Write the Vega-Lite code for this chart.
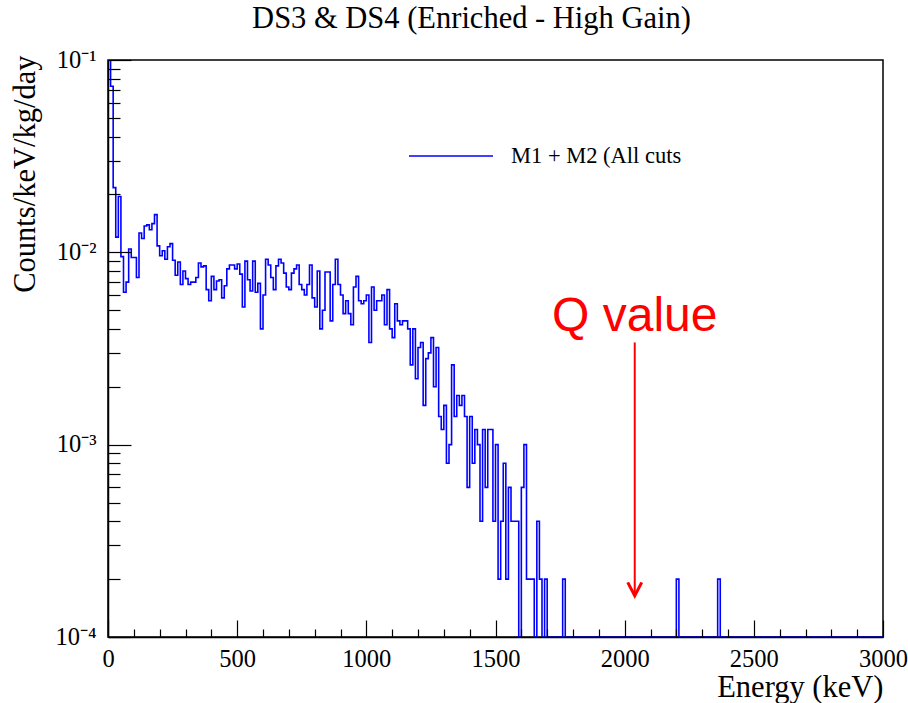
{
  "$schema": "https://vega.github.io/schema/vega-lite/v6.json",
  "width": 775,
  "height": 577,
  "autosize": {"type": "none"},
  "padding": {"left": 108, "top": 60, "right": 25, "bottom": 66},
  "background": "white",
  "config": {
    "view": {"stroke": "black", "strokeWidth": 1.5},
    "font": "Liberation Serif"
  },
  "title": {
    "text": "DS3 & DS4 (Enriched - High Gain)",
    "font": "Liberation Serif",
    "fontSize": 30.5,
    "fontWeight": "normal",
    "color": "black",
    "anchor": "middle",
    "frame": "group",
    "baseline": "alphabetic",
    "offset": 29,
    "dx": -24,
    "dy": 40
  },
  "datasets": {
    "spectrum": [
      {"keV":0,"rate":0.105},{"keV":10,"rate":0.073},{"keV":20,"rate":0.0217},{"keV":30,"rate":0.012},{"keV":40,"rate":0.0195},
      {"keV":50,"rate":0.0095},{"keV":60,"rate":0.0062},{"keV":70,"rate":0.007},{"keV":80,"rate":0.0104},{"keV":90,"rate":0.0094},
      {"keV":100,"rate":0.0094},{"keV":110,"rate":0.0074},{"keV":120,"rate":0.0126},{"keV":130,"rate":0.0118},{"keV":140,"rate":0.0137},
      {"keV":150,"rate":0.0139},{"keV":160,"rate":0.0131},{"keV":170,"rate":0.0141},{"keV":180,"rate":0.0157},{"keV":190,"rate":0.0108},
      {"keV":200,"rate":0.0096},{"keV":210,"rate":0.0102},{"keV":220,"rate":0.0092},{"keV":230,"rate":0.0107},{"keV":240,"rate":0.0111},
      {"keV":250,"rate":0.0091},{"keV":260,"rate":0.0076},{"keV":270,"rate":0.0089},{"keV":280,"rate":0.0068},{"keV":290,"rate":0.008},
      {"keV":300,"rate":0.0073},{"keV":310,"rate":0.0068},{"keV":320,"rate":0.007},{"keV":330,"rate":0.007},{"keV":340,"rate":0.0074},
      {"keV":350,"rate":0.0088},{"keV":360,"rate":0.0084},{"keV":370,"rate":0.0085},{"keV":380,"rate":0.0064},{"keV":390,"rate":0.0056},
      {"keV":400,"rate":0.0075},{"keV":410,"rate":0.0064},{"keV":420,"rate":0.0071},{"keV":430,"rate":0.0072},{"keV":440,"rate":0.0058},
      {"keV":450,"rate":0.0067},{"keV":460,"rate":0.0082},{"keV":470,"rate":0.0086},{"keV":480,"rate":0.0086},{"keV":490,"rate":0.0082},
      {"keV":500,"rate":0.0087},{"keV":510,"rate":0.0077},{"keV":520,"rate":0.0052},{"keV":530,"rate":0.009},{"keV":540,"rate":0.0072},
      {"keV":550,"rate":0.0063},{"keV":560,"rate":0.009},{"keV":570,"rate":0.0062},{"keV":580,"rate":0.0069},{"keV":590,"rate":0.004},
      {"keV":600,"rate":0.006},{"keV":610,"rate":0.0092},{"keV":620,"rate":0.0086},{"keV":630,"rate":0.0074},{"keV":640,"rate":0.0064},
      {"keV":650,"rate":0.0085},{"keV":660,"rate":0.0092},{"keV":670,"rate":0.0088},{"keV":680,"rate":0.0078},{"keV":690,"rate":0.0066},
      {"keV":700,"rate":0.0064},{"keV":710,"rate":0.0078},{"keV":720,"rate":0.0082},{"keV":730,"rate":0.0086},{"keV":740,"rate":0.0068},
      {"keV":750,"rate":0.0064},{"keV":760,"rate":0.006},{"keV":770,"rate":0.0068},{"keV":780,"rate":0.0086},{"keV":790,"rate":0.0058},
      {"keV":800,"rate":0.0052},{"keV":810,"rate":0.008},{"keV":820,"rate":0.004},{"keV":830,"rate":0.005},{"keV":840,"rate":0.0079},
      {"keV":850,"rate":0.0079},{"keV":860,"rate":0.0044},{"keV":870,"rate":0.0068},{"keV":880,"rate":0.0092},{"keV":890,"rate":0.0068},
      {"keV":900,"rate":0.006},{"keV":910,"rate":0.0048},{"keV":920,"rate":0.0056},{"keV":930,"rate":0.0048},{"keV":940,"rate":0.0042},
      {"keV":950,"rate":0.0066},{"keV":960,"rate":0.0075},{"keV":970,"rate":0.0056},{"keV":980,"rate":0.0054},{"keV":990,"rate":0.0056},
      {"keV":1000,"rate":0.006},{"keV":1010,"rate":0.0034},{"keV":1020,"rate":0.0066},{"keV":1030,"rate":0.005},{"keV":1040,"rate":0.0056},
      {"keV":1050,"rate":0.0056},{"keV":1060,"rate":0.006},{"keV":1070,"rate":0.0042},{"keV":1080,"rate":0.0064},{"keV":1090,"rate":0.004},
      {"keV":1100,"rate":0.0036},{"keV":1110,"rate":0.0054},{"keV":1120,"rate":0.0044},{"keV":1130,"rate":0.0042},{"keV":1140,"rate":0.0044},
      {"keV":1150,"rate":0.0044},{"keV":1160,"rate":0.004},{"keV":1170,"rate":0.0026},{"keV":1180,"rate":0.004},{"keV":1190,"rate":0.0022},
      {"keV":1200,"rate":0.0032},{"keV":1210,"rate":0.0034},{"keV":1220,"rate":0.0016},{"keV":1230,"rate":0.0028},{"keV":1240,"rate":0.003},
      {"keV":1250,"rate":0.0036},{"keV":1260,"rate":0.002},{"keV":1270,"rate":0.0032},{"keV":1280,"rate":0.0014},{"keV":1290,"rate":0.0012},
      {"keV":1300,"rate":0.0016},{"keV":1310,"rate":0.0008},{"keV":1320,"rate":0.001},{"keV":1330,"rate":0.0026},{"keV":1340,"rate":0.0014},
      {"keV":1350,"rate":0.0018},{"keV":1360,"rate":0.0016},{"keV":1370,"rate":0.0018},{"keV":1380,"rate":0.0014},{"keV":1390,"rate":0.0006},
      {"keV":1400,"rate":0.0014},{"keV":1410,"rate":0.0008},{"keV":1420,"rate":0.0012},{"keV":1430,"rate":0.001},{"keV":1440,"rate":0.0004},
      {"keV":1450,"rate":0.0012},{"keV":1460,"rate":0.0006},{"keV":1470,"rate":0.0012},{"keV":1480,"rate":0.0012},{"keV":1490,"rate":0.0004},
      {"keV":1500,"rate":0.001},{"keV":1510,"rate":0.0002},{"keV":1520,"rate":0.0004},{"keV":1530,"rate":0.0008},{"keV":1540,"rate":0.0002},
      {"keV":1550,"rate":0.0006},{"keV":1560,"rate":0.0004},{"keV":1570,"rate":0.0004},{"keV":1580,"rate":0.0004},{"keV":1590,"rate":0},
      {"keV":1600,"rate":0.0006},{"keV":1610,"rate":0.001},{"keV":1620,"rate":0.0002},{"keV":1630,"rate":0.0002},{"keV":1640,"rate":0.0002},
      {"keV":1650,"rate":0},{"keV":1660,"rate":0.0004},{"keV":1670,"rate":0.0002},{"keV":1680,"rate":0},{"keV":1690,"rate":0.0002},
      {"keV":1700,"rate":0},{"keV":1710,"rate":0},{"keV":1720,"rate":0},{"keV":1730,"rate":0},{"keV":1740,"rate":0},
      {"keV":1750,"rate":0},{"keV":1760,"rate":0.0002},{"keV":1770,"rate":0},{"keV":1780,"rate":0},{"keV":1790,"rate":0},
      {"keV":1800,"rate":0},{"keV":1810,"rate":0},{"keV":1820,"rate":0},{"keV":1830,"rate":0},{"keV":1840,"rate":0},
      {"keV":1850,"rate":0},{"keV":1860,"rate":0},{"keV":1870,"rate":0},{"keV":1880,"rate":0},{"keV":1890,"rate":0},
      {"keV":1900,"rate":0},{"keV":1910,"rate":0},{"keV":1920,"rate":0},{"keV":1930,"rate":0},{"keV":1940,"rate":0},
      {"keV":1950,"rate":0},{"keV":1960,"rate":0},{"keV":1970,"rate":0},{"keV":1980,"rate":0},{"keV":1990,"rate":0},
      {"keV":2000,"rate":0},{"keV":2010,"rate":0},{"keV":2020,"rate":0},{"keV":2030,"rate":0},{"keV":2040,"rate":0},
      {"keV":2050,"rate":0},{"keV":2060,"rate":0},{"keV":2070,"rate":0},{"keV":2080,"rate":0},{"keV":2090,"rate":0},
      {"keV":2100,"rate":0},{"keV":2110,"rate":0},{"keV":2120,"rate":0},{"keV":2130,"rate":0},{"keV":2140,"rate":0},
      {"keV":2150,"rate":0},{"keV":2160,"rate":0},{"keV":2170,"rate":0},{"keV":2180,"rate":0},{"keV":2190,"rate":0},
      {"keV":2200,"rate":0.0002},{"keV":2210,"rate":0},{"keV":2220,"rate":0},{"keV":2230,"rate":0},{"keV":2240,"rate":0},
      {"keV":2250,"rate":0},{"keV":2260,"rate":0},{"keV":2270,"rate":0},{"keV":2280,"rate":0},{"keV":2290,"rate":0},
      {"keV":2300,"rate":0},{"keV":2310,"rate":0},{"keV":2320,"rate":0},{"keV":2330,"rate":0},{"keV":2340,"rate":0},
      {"keV":2350,"rate":0},{"keV":2360,"rate":0.0002},{"keV":2370,"rate":0},{"keV":2380,"rate":0},{"keV":2390,"rate":0},
      {"keV":2400,"rate":0},{"keV":2410,"rate":0},{"keV":2420,"rate":0},{"keV":2430,"rate":0},{"keV":2440,"rate":0},
      {"keV":2450,"rate":0},{"keV":2460,"rate":0},{"keV":2470,"rate":0},{"keV":2480,"rate":0},{"keV":2490,"rate":0},
      {"keV":2500,"rate":0},{"keV":2510,"rate":0},{"keV":2520,"rate":0},{"keV":2530,"rate":0},{"keV":2540,"rate":0},
      {"keV":2550,"rate":0},{"keV":2560,"rate":0},{"keV":2570,"rate":0},{"keV":2580,"rate":0},{"keV":2590,"rate":0},
      {"keV":2600,"rate":0},{"keV":2610,"rate":0},{"keV":2620,"rate":0},{"keV":2630,"rate":0},{"keV":2640,"rate":0},
      {"keV":2650,"rate":0},{"keV":2660,"rate":0},{"keV":2670,"rate":0},{"keV":2680,"rate":0},{"keV":2690,"rate":0},
      {"keV":2700,"rate":0},{"keV":2710,"rate":0},{"keV":2720,"rate":0},{"keV":2730,"rate":0},{"keV":2740,"rate":0},
      {"keV":2750,"rate":0},{"keV":2760,"rate":0},{"keV":2770,"rate":0},{"keV":2780,"rate":0},{"keV":2790,"rate":0},
      {"keV":2800,"rate":0},{"keV":2810,"rate":0},{"keV":2820,"rate":0},{"keV":2830,"rate":0},{"keV":2840,"rate":0},
      {"keV":2850,"rate":0},{"keV":2860,"rate":0},{"keV":2870,"rate":0},{"keV":2880,"rate":0},{"keV":2890,"rate":0},
      {"keV":2900,"rate":0},{"keV":2910,"rate":0},{"keV":2920,"rate":0},{"keV":2930,"rate":0},{"keV":2940,"rate":0},
      {"keV":2950,"rate":0},{"keV":2960,"rate":0},{"keV":2970,"rate":0},{"keV":2980,"rate":0},{"keV":2990,"rate":0},
      {"keV":3000,"rate":0}
    ],
    "qvalue": [
      {"keV": 2039, "top": 0.0034, "tip": 0.000164, "textRate": 0.0039, "label": "Q value"}
    ]
  },
  "layer": [
    {
      "description": "Minor tick marks on both axes (invisible carrier mark)",
      "data": {"name": "qvalue"},
      "mark": {"type": "point", "opacity": 0},
      "encoding": {
        "x": {
          "field": "keV", "type": "quantitative",
          "scale": {"domain": [0, 3000], "nice": false, "zero": false},
          "axis": {
            "orient": "bottom", "values": [100,200,300,400,600,700,800,900,1100,1200,1300,1400,1600,1700,1800,1900,2100,2200,2300,2400,2600,2700,2800,2900],
            "labels": false, "domain": false, "grid": false, "title": null,
            "ticks": true, "tickSize": -8, "tickColor": "black", "tickWidth": 1.2, "zindex": 1
          }
        },
        "y": {
          "field": "top", "type": "quantitative",
          "scale": {"type": "log", "domain": [0.0001, 0.1], "nice": false, "clamp": true},
          "axis": {
            "orient": "left",
            "values": [0.0002,0.0003,0.0004,0.0005,0.0006,0.0007,0.0008,0.0009,0.002,0.003,0.004,0.005,0.006,0.007,0.008,0.009,0.02,0.03,0.04,0.05,0.06,0.07,0.08,0.09],
            "labels": false, "domain": false, "grid": false, "title": null,
            "ticks": true, "tickSize": -12, "tickColor": "black", "tickWidth": 1.2, "zindex": 1
          }
        }
      }
    },
    {
      "description": "Energy spectrum histogram drawn as a step outline",
      "data": {"name": "spectrum"},
      "mark": {"type": "line", "interpolate": "step-after", "strokeWidth": 1.6, "clip": true},
      "encoding": {
        "x": {
          "field": "keV", "type": "quantitative",
          "scale": {"domain": [0, 3000], "nice": false, "zero": false},
          "axis": {
            "orient": "bottom", "values": [0,500,1000,1500,2000,2500,3000], "format": "d",
            "labelFont": "Liberation Serif", "labelFontSize": 24.5, "labelColor": "black",
            "labelFlush": false, "labelOverlap": false, "labelBaseline": "alphabetic", "labelPadding": 46,
            "tickSize": -17, "tickColor": "black", "tickWidth": 1.2,
            "domain": true, "domainColor": "black", "domainWidth": 1.5, "grid": false, "zindex": 1,
            "title": "Energy (keV)", "titleFont": "Liberation Serif", "titleFontSize": 30.5,
            "titleFontWeight": "normal", "titleColor": "black", "titleAlign": "right",
            "titleBaseline": "alphabetic", "titleAngle": 0, "titleX": 775, "titleY": 59
          }
        },
        "y": {
          "field": "rate", "type": "quantitative",
          "scale": {"type": "log", "domain": [0.0001, 0.1], "nice": false, "clamp": true},
          "axis": {
            "orient": "left", "values": [0.0001, 0.001, 0.01, 0.1],
            "labelExpr": "'10' + ['⁰','⁻¹','⁻²','⁻³','⁻⁴'][round(-log(datum.value)/LN10)]",
            "labelFont": "Liberation Serif", "labelFontSize": 24.5, "labelColor": "black",
            "labelAlign": "right", "labelBaseline": "middle", "labelPadding": 35,
            "labelFlush": false, "labelOverlap": false,
            "tickSize": -23, "tickColor": "black", "tickWidth": 1.2,
            "domain": true, "domainColor": "black", "domainWidth": 1.5, "grid": false, "zindex": 1,
            "title": "Counts/keV/kg/day", "titleFont": "Liberation Serif", "titleFontSize": 30.5,
            "titleFontWeight": "normal", "titleColor": "black", "titleAngle": 270,
            "titleAlign": "right", "titleBaseline": "alphabetic", "titleX": -74, "titleY": -5
          }
        },
        "color": {
          "datum": "M1 + M2 (All cuts",
          "scale": {"range": ["#0000ff"]},
          "legend": {
            "orient": "none", "legendX": 300, "legendY": 53, "title": null,
            "symbolType": "stroke", "symbolSize": 7056, "symbolStrokeWidth": 1.6,
            "labelFont": "Liberation Serif", "labelFontSize": 22.5, "labelColor": "black",
            "labelOffset": 17, "labelLimit": 0, "padding": 0
          }
        }
      }
    },
    {
      "description": "Q value arrow shaft",
      "data": {"name": "qvalue"},
      "mark": {"type": "rule", "color": "#ff0000", "strokeWidth": 2},
      "encoding": {
        "x": {"field": "keV", "type": "quantitative", "axis": null},
        "y": {"field": "top", "type": "quantitative", "axis": null},
        "y2": {"field": "tip"}
      }
    },
    {
      "description": "Q value arrow head",
      "data": {"name": "qvalue"},
      "mark": {"type": "point", "shape": "M-1,-1.9L0,0L1,-1.9", "filled": false, "size": 196, "color": "#ff0000", "strokeWidth": 3, "opacity": 1},
      "encoding": {
        "x": {"field": "keV", "type": "quantitative", "axis": null},
        "y": {"field": "tip", "type": "quantitative", "axis": null}
      }
    },
    {
      "description": "Q value label",
      "data": {"name": "qvalue"},
      "mark": {"type": "text", "font": "Liberation Sans", "fontSize": 48, "color": "#ff0000", "align": "center", "baseline": "alphabetic"},
      "encoding": {
        "x": {"field": "keV", "type": "quantitative", "axis": null},
        "y": {"field": "textRate", "type": "quantitative", "axis": null},
        "text": {"field": "label"}
      }
    }
  ],
  "resolve": {"axis": {"x": "independent", "y": "independent"}}
}
